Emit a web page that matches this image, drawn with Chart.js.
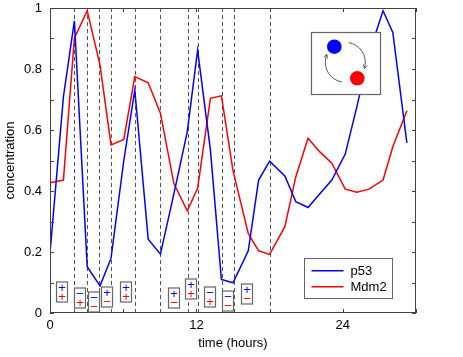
<!DOCTYPE html>
<html>
<head>
<meta charset="utf-8">
<script src="https://cdn.jsdelivr.net/npm/chart.js@4"></script>
<style>
html, body { margin: 0; padding: 0; background: #fff; }
</style>
</head>
<body>
<canvas id="chart" width="463" height="357"></canvas>
<script>
// sample times (hours) and concentrations
const hours = [0, 1.1, 2.0, 3.05, 4.1, 5.0, 6.05, 6.95, 8.05, 9.05, 10.15, 11.25, 12.1, 13.15, 14.05,
	15.0, 16.25, 17.1, 18.0, 19.25, 20.15, 21.15, 22.1, 23.1, 24.2, 25.15, 26.15, 27.3, 28.1, 29.25];
const p53 = [0.196, 0.709, 0.958, 0.152, 0.089, 0.179, 0.50, 0.731, 0.242, 0.193, 0.39, 0.594, 0.862, 0.534, 0.110,
	0.099, 0.204, 0.436, 0.498, 0.449, 0.365, 0.346, 0.39, 0.436, 0.521, 0.676, 0.85, 0.991, 0.920, 0.558];
const mdm2 = [0.427, 0.436, 0.901, 0.991, 0.813, 0.551, 0.569, 0.775, 0.755, 0.655, 0.425, 0.335, 0.409, 0.704, 0.712,
	0.467, 0.261, 0.204, 0.192, 0.283, 0.447, 0.573, 0.529, 0.491, 0.406, 0.396, 0.406, 0.436, 0.545, 0.663];

// dashed marker lines (hours)
const markerHours = [1.95, 3.05, 4.05, 5.0, 6.95, 9.05, 11.3, 12.15, 14.1, 15.05, 18.0];

// sign boxes: where they sit (hours, concentration) and what they show
const signHours = [0.98, 2.46, 3.58, 4.71, 6.27, 10.15, 11.56, 13.11, 14.59, 16.15];
const signLevels = [0.070, 0.049, 0.036, 0.051, 0.068, 0.048, 0.079, 0.051, 0.039, 0.062];
const p53Signs = ['+', '−', '−', '+', '+', '+', '+', '−', '−', '+'];
const mdm2Signs = ['+', '+', '−', '−', '+', '−', '+', '+', '−', '−'];

const xTicks = [0, 12, 24];
const yTickStep = 0.1;

const FONT = 'Liberation Sans, Arial, Helvetica, sans-serif';

let decorations = {
	id: 'decorations',
	beforeDatasetsDraw(chart) {
		let {ctx, chartArea: a, scales: {x}} = chart;
		ctx.save();
		ctx.strokeStyle = '#555';
		ctx.lineWidth = 1;
		ctx.setLineDash([4, 3]);
		for (let t of markerHours) {
			let px = Math.round(x.getPixelForValue(t)) + 0.5;
			ctx.beginPath();
			ctx.moveTo(px, a.top);
			ctx.lineTo(px, a.bottom);
			ctx.stroke();
		}
		ctx.restore();
	},
	afterDatasetsDraw(chart) {
		let {ctx, chartArea: a, scales: {x, y}} = chart;
		ctx.save();

		// frame with inward ticks
		ctx.strokeStyle = '#404040';
		ctx.lineWidth = 1;
		ctx.strokeRect(a.left + 0.5, a.top + 0.5, a.right - a.left - 1, a.bottom - a.top - 1);
		ctx.beginPath();
		for (let tk of y.ticks) {
			let py = Math.round(y.getPixelForValue(tk.value)) + 0.5;
			ctx.moveTo(a.left, py); ctx.lineTo(a.left + 4, py);
			ctx.moveTo(a.right, py); ctx.lineTo(a.right - 4, py);
		}
		for (let tk of x.ticks) {
			let px = Math.round(x.getPixelForValue(tk.value)) + 0.5;
			ctx.moveTo(px, a.bottom); ctx.lineTo(px, a.bottom - 4);
			ctx.moveTo(px, a.top); ctx.lineTo(px, a.top + 4);
		}
		ctx.stroke();

		// sign boxes
		ctx.font = '13px ' + FONT;
		ctx.textAlign = 'center';
		ctx.textBaseline = 'middle';
		for (let i = 0; i < signHours.length; i++) {
			let cx = Math.round(x.getPixelForValue(signHours[i]));
			let cy = Math.round(y.getPixelForValue(signLevels[i]));
			ctx.fillStyle = '#fff';
			ctx.fillRect(cx - 5.5, cy - 10, 11, 20);
			ctx.strokeStyle = '#666';
			ctx.lineWidth = 1.2;
			ctx.strokeRect(cx - 5.5, cy - 10, 11, 20);
			ctx.fillStyle = '#0000ff';
			ctx.fillText(p53Signs[i], cx, cy - 4);
			ctx.fillStyle = '#ff0000';
			ctx.fillText(mdm2Signs[i], cx, cy + 5);
		}

		// inset diagram
		ctx.fillStyle = '#fff';
		ctx.fillRect(311.5, 32.5, 69, 62);
		ctx.strokeStyle = '#666';
		ctx.lineWidth = 1.2;
		ctx.strokeRect(311.5, 32.5, 69, 62);
		let ocx = 345.3, ocy = 62.3, r = 20;
		ctx.strokeStyle = '#555';
		ctx.lineWidth = 1;
		let arrow = (ang) => {
			let ex = ocx + r * Math.cos(ang), ey = ocy + r * Math.sin(ang);
			let dir = ang + Math.PI / 2; // clockwise tangent
			ctx.beginPath();
			ctx.moveTo(ex - 4 * Math.cos(dir - 0.5), ey - 4 * Math.sin(dir - 0.5));
			ctx.lineTo(ex, ey);
			ctx.lineTo(ex - 4 * Math.cos(dir + 0.5), ey - 4 * Math.sin(dir + 0.5));
			ctx.stroke();
		};
		let a1s = -80 * Math.PI / 180, a1e = 18 * Math.PI / 180;
		ctx.beginPath(); ctx.arc(ocx, ocy, r, a1s, a1e); ctx.stroke();
		arrow(a1e);
		let a2s = 100 * Math.PI / 180, a2e = 203 * Math.PI / 180;
		ctx.beginPath(); ctx.arc(ocx, ocy, r, a2s, a2e); ctx.stroke();
		arrow(a2e);
		ctx.fillStyle = '#0000ff';
		ctx.beginPath(); ctx.arc(334.3, 46.7, 7.3, 0, Math.PI * 2); ctx.fill();
		ctx.fillStyle = '#ff0000';
		ctx.beginPath(); ctx.arc(357.3, 78.3, 7.3, 0, Math.PI * 2); ctx.fill();

		// legend
		ctx.fillStyle = '#fff';
		ctx.fillRect(304.5, 258.5, 88, 40);
		ctx.strokeStyle = '#666';
		ctx.lineWidth = 1;
		ctx.strokeRect(304.5, 258.5, 88, 40);
		ctx.font = '13px ' + FONT;
		ctx.textAlign = 'left';
		chart.data.datasets.forEach((ds, i) => {
			let ly = 270.7 + i * 16;
			ctx.strokeStyle = ds.borderColor;
			ctx.lineWidth = 1.5;
			ctx.beginPath();
			ctx.moveTo(311.5, ly); ctx.lineTo(343.5, ly);
			ctx.stroke();
			ctx.fillStyle = '#000';
			ctx.fillText(ds.label, 350.5, ly + 0.5);
		});
		ctx.restore();
	},
};

let ctx = document.getElementById('chart').getContext('2d');
let chart = new Chart(ctx, {
	type: 'line',
	data: {
		datasets: [{
			label: 'p53',
			data: hours.map((t, i) => ({x: t, y: p53[i]})),
			borderColor: '#0000ff',
			borderWidth: 1.5,
			pointRadius: 0,
			tension: 0,
			fill: false,
		}, {
			label: 'Mdm2',
			data: hours.map((t, i) => ({x: t, y: mdm2[i]})),
			borderColor: '#ff0000',
			borderWidth: 1.5,
			pointRadius: 0,
			tension: 0,
			fill: false,
		}],
	},
	options: {
		responsive: false,
		animation: false,
		devicePixelRatio: 1,
		layout: {padding: {top: 8, right: 47, left: 0, bottom: 0}},
		plugins: {legend: {display: false}, tooltip: {enabled: false}},
		scales: {
			x: {
				type: 'linear',
				min: 0,
				max: 30,
				afterFit: (s) => { s.height = 44; s.paddingLeft = 0; s.paddingRight = 0; },
				grid: {display: false, drawTicks: false},
				border: {display: false},
				ticks: {
					stepSize: 6,
					autoSkip: false,
					maxRotation: 0,
					padding: 5,
					color: '#000',
					font: {size: 13, family: FONT},
					callback: (v) => xTicks.includes(v) ? String(v) : '',
				},
				title: {
					display: true,
					text: 'time (hours)',
					color: '#000',
					font: {size: 13, family: FONT},
					padding: {top: 0, bottom: 6},
				},
			},
			y: {
				min: 0,
				max: 1,
				afterFit: (s) => { s.width = 50; s.paddingTop = 0; s.paddingBottom = 0; },
				grid: {display: false, drawTicks: false},
				border: {display: false},
				ticks: {
					stepSize: yTickStep,
					padding: 8,
					color: '#000',
					font: {size: 13, family: FONT},
					callback: (v) => {
						let r = Math.round(v * 10);
						return r % 2 === 0 ? String(r / 10) : '';
					},
				},
				title: {
					display: true,
					text: 'concentration',
					color: '#000',
					font: {size: 13, family: FONT},
					padding: {top: 3, bottom: 0},
				},
			},
		},
	},
	plugins: [decorations],
});
</script>
</body>
</html>
